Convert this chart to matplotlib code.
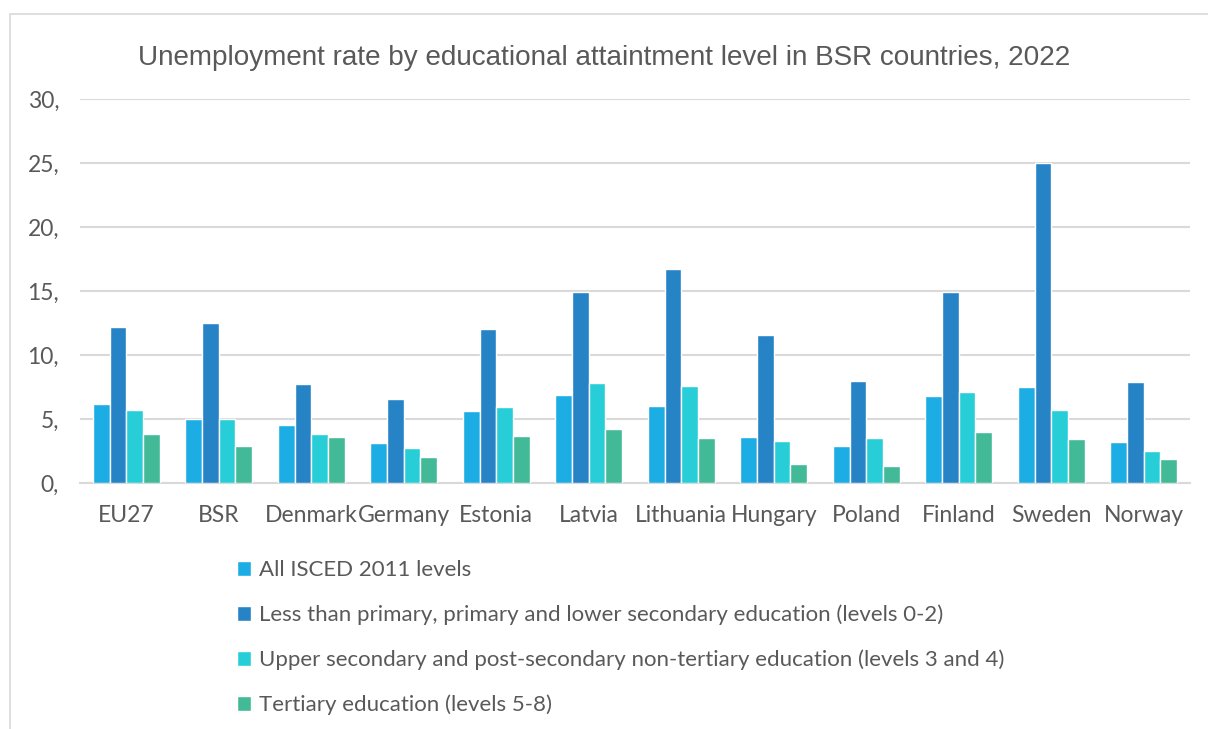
import matplotlib
matplotlib.use("Agg")
import matplotlib.pyplot as plt
import numpy as np
from matplotlib.patches import Rectangle

countries = ["EU27", "BSR", "Denmark", "Germany", "Estonia", "Latvia", "Lithuania",
             "Hungary", "Poland", "Finland", "Sweden", "Norway"]
series_names = ["All ISCED 2011 levels",
                "Less than primary, primary and lower secondary education (levels 0-2)",
                "Upper secondary and post-secondary non-tertiary education (levels 3 and 4)",
                "Tertiary education (levels 5-8)"]
all_levels = [6.2, 5.0, 4.5, 3.1, 5.6, 6.9, 6.0, 3.6, 2.9, 6.8, 7.5, 3.2]
levels_0_2 = [12.2, 12.5, 7.7, 6.6, 12.0, 14.9, 16.7, 11.6, 8.0, 14.9, 25.0, 7.9]
levels_3_4 = [5.7, 5.0, 3.8, 2.7, 5.9, 7.8, 7.6, 3.3, 3.5, 7.1, 5.7, 2.5]
levels_5_8 = [3.8, 2.9, 3.6, 2.0, 3.7, 4.2, 3.5, 1.5, 1.3, 4.0, 3.4, 1.9]
yticks = [0, 5, 10, 15, 20, 25, 30]
ytick_labels = ["0,", "5,", "10,", "15,", "20,", "25,", "30,"]
title = "Unemployment rate by educational attaintment level in BSR countries, 2022"

colors = ["#1CADE4", "#2683C6", "#27CED7", "#42BA97"]
series = [all_levels, levels_0_2, levels_3_4, levels_5_8]

fig = plt.figure(figsize=(12.08, 7.29), dpi=100)
fig.patch.set_facecolor("white")
# outer chart frame
fig.patches.append(Rectangle((10/1208, -0.1), 1.2, 1 - 14/729 + 0.1,
                             transform=fig.transFigure, fill=False,
                             edgecolor="#D9D9D9", linewidth=1.2, zorder=0))

ax = fig.add_axes([80/1208, 1 - 483/729, (1190 - 80)/1208, (483 - 99)/729])
x = np.arange(len(countries))
slot = 0.18
for i, (vals, col, name) in enumerate(zip(series, colors, series_names)):
    ax.bar(x + (i - 1.5) * slot, vals, width=slot, color=col, edgecolor="white",
           linewidth=1.0, label=name, zorder=3)

ax.set_xlim(-0.5, len(countries) - 0.5)
ax.set_ylim(0, 30)
ax.set_yticks(yticks)
ax.set_yticklabels(ytick_labels)
ax.set_xticks(x)
ax.set_xticklabels(countries)
for s in ["top", "right", "left"]:
    ax.spines[s].set_visible(False)
ax.spines["bottom"].set_color("#D9D9D9")
ax.spines["bottom"].set_linewidth(1.5)
ax.yaxis.grid(True, color="#D9D9D9", linewidth=1.5, zorder=0)
ax.set_axisbelow(True)
ax.tick_params(axis="both", length=0, labelsize=16.5, colors="#595959")
ax.tick_params(axis="x", pad=16)
ax.tick_params(axis="y", pad=15)
for lbl in ax.get_xticklabels() + ax.get_yticklabels():
    lbl.set_family(["Lato", "DejaVu Sans"])

fig.text(0.5, 1 - 58/729, title, ha="center", va="center", fontsize=20.1,
         color="#595959", family=["Liberation Sans", "DejaVu Sans"])

handles, labels = ax.get_legend_handles_labels()
leg = fig.legend(handles, labels, loc="upper left",
                 bbox_to_anchor=(217/1208, 1 - 540/729), frameon=False,
                 handlelength=0.65, handleheight=0.65,
                 handletextpad=0.35, labelspacing=1.1,
                 prop={"family": ["Lato", "DejaVu Sans"], "size": 16.0})
for t in leg.get_texts():
    t.set_color("#595959")

fig.savefig("out.png", dpi=100, facecolor="white")
